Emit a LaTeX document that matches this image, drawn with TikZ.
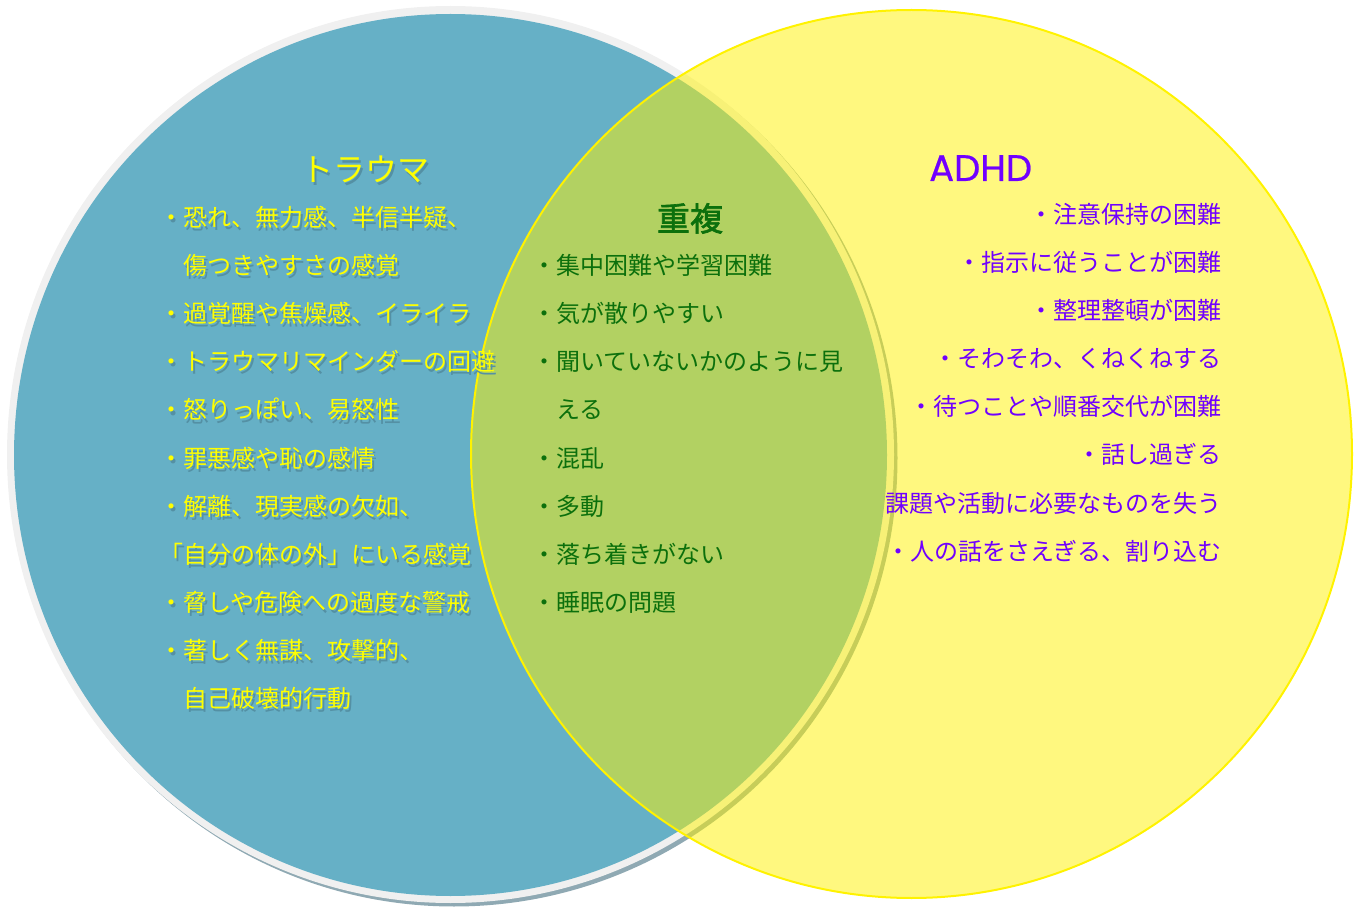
\documentclass[tikz,border=0pt]{standalone}
\usepackage{fontspec}
\newfontfamily\jp{Noto Sans CJK JP}
\newfontfamily\jpbold[FakeBold=2]{Noto Sans CJK JP}
\newfontfamily\latinwide[FakeBold=0.6]{Poppins}
\definecolor{trblue}{RGB}{102,176,198}
\definecolor{trring}{RGB}{240,240,240}
\definecolor{trshade}{RGB}{143,169,179}
\definecolor{trtext}{RGB}{255,255,0}
\definecolor{txshadow}{RGB}{84,144,164}
\definecolor{ovgreen}{RGB}{12,112,12}
\definecolor{adpurple}{RGB}{112,0,255}
\tikzset{
  body/.style={inner sep=0pt, font=\jp\fontsize{24}{28}\selectfont},
  trtxt/.style={body, text=trtext},
  trshd/.style={body, text=txshadow},
  ovtxt/.style={body, text=ovgreen},
  adtxt/.style={body, text=adpurple},
}
\newcommand{\trrow}[4]{%
  \node[trshd, anchor=base west] (#1s) at (#2+2,#3+3) {#4};
  \node[trtxt, anchor=base west] (#1) at (#2,#3) {#4};}
\begin{document}
\begin{tikzpicture}[x=1pt,y=-1pt]
\useasboundingbox (0,0) rectangle (1361,909);
% left circle
\fill[trshade] (454,458) ellipse [x radius=443.5, y radius=448.5];
\fill[trring] (450.5,454.5) ellipse [x radius=443.5, y radius=448.5];
\fill[trblue] (450.5,455) ellipse [x radius=436.5, y radius=441];
% right circle
\fill[yellow, fill opacity=0.5] (911.5,454) ellipse [x radius=440.5, y radius=444];
\draw[yellow, line width=2pt] (911.5,454) ellipse [x radius=440.5, y radius=444];
% left texts
\node[trshd, font=\jp\fontsize{32}{36}\selectfont, anchor=base] (trtitles) at (367,185) {トラウマ};
\node[trtxt, font=\jp\fontsize{32}{36}\selectfont, anchor=base] (trtitle) at (365,182) {トラウマ};
\trrow{t1}{159}{227}{・恐れ、無力感、半信半疑、}
\trrow{t2}{183}{275}{傷つきやすさの感覚}
\trrow{t3}{159}{323}{・過覚醒や焦燥感、イライラ}
\trrow{t4}{159}{371}{・トラウマリマインダーの回避}
\trrow{t5}{159}{419}{・怒りっぽい、易怒性}
\trrow{t6}{159}{467}{・罪悪感や恥の感情}
\trrow{t7}{159}{515}{・解離、現実感の欠如、}
\trrow{t8}{159}{563}{「自分の体の外」にいる感覚}
\trrow{t9}{159}{611}{・脅しや危険への過度な警戒}
\trrow{t10}{159}{659}{・著しく無謀、攻撃的、}
\trrow{t11}{183}{707}{自己破壊的行動}
% overlap texts
\node[ovtxt, font=\jpbold\fontsize{33}{38}\selectfont, anchor=base] (ovtitle) at (690,231) {重複};
\node[ovtxt, anchor=base west] (o1) at (532,275) {・集中困難や学習困難};
\node[ovtxt, anchor=base west] (o2) at (532,323) {・気が散りやすい};
\node[ovtxt, anchor=base west] (o3) at (532,371) {・聞いていないかのように見};
\node[ovtxt, anchor=base west] (o4) at (556,419) {える};
\node[ovtxt, anchor=base west] (o5) at (532,467) {・混乱};
\node[ovtxt, anchor=base west] (o6) at (532,515) {・多動};
\node[ovtxt, anchor=base west] (o7) at (532,563) {・落ち着きがない};
\node[ovtxt, anchor=base west] (o8) at (532,611) {・睡眠の問題};
% ADHD texts
\node[adtxt, font=\latinwide\fontsize{37}{42}\selectfont, anchor=base west] (adtitle) at (929,181) {ADHD};
\node[adtxt, anchor=base east] (a1) at (1222,224) {・注意保持の困難};
\node[adtxt, anchor=base east] (a2) at (1222,272) {・指示に従うことが困難};
\node[adtxt, anchor=base east] (a3) at (1222,320) {・整理整頓が困難};
\node[adtxt, anchor=base east] (a4) at (1222,368) {・そわそわ、くねくねする};
\node[adtxt, anchor=base east] (a5) at (1222,416) {・待つことや順番交代が困難};
\node[adtxt, anchor=base east] (a6) at (1222,464) {・話し過ぎる};
\node[adtxt, anchor=base east] (a7) at (1222,512) {課題や活動に必要なものを失う};
\node[adtxt, anchor=base east] (a8) at (1222,560) {・人の話をさえぎる、割り込む};
\end{tikzpicture}
\end{document}
